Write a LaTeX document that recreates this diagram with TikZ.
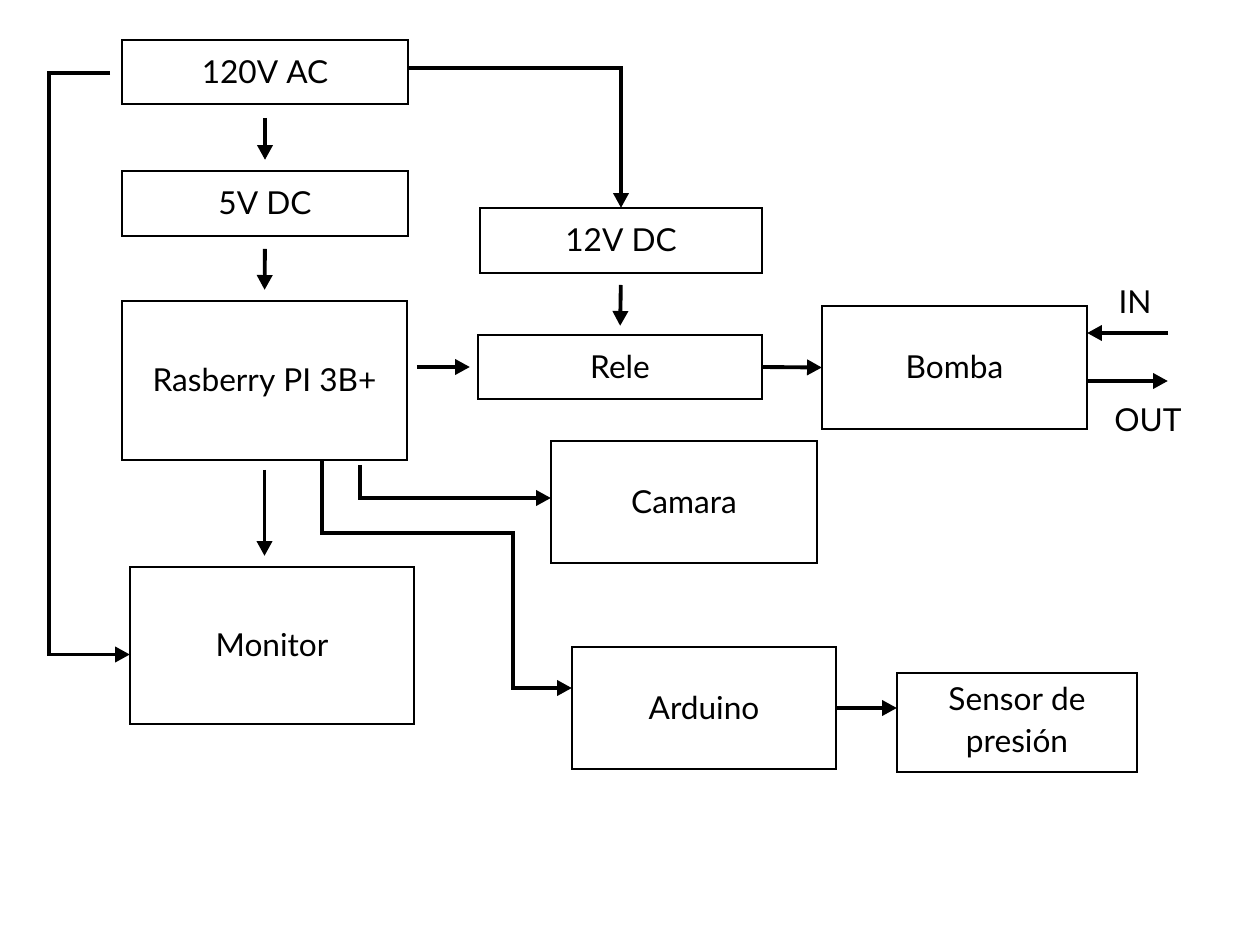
\documentclass[tikz,border=0pt]{standalone}
\usepackage{fontspec}
\setmainfont{Lato}
\usetikzlibrary{arrows.meta,positioning}

\begin{document}
\begin{tikzpicture}[x=0.02cm,y=-0.02cm,
  blk/.style={draw,line width=1.2pt,inner sep=0pt,outer sep=0pt,font=\fontsize{18}{24}\selectfont},
  onerow/.style={blk,text height=13pt,text depth=0pt},
  arr/.style={line width=2.2pt,-{Triangle[length=0.3cm,width=0.3cm]}}]
  \useasboundingbox[fill=white] (0,0) rectangle (1240,925);
  \node[onerow,minimum width=5.72cm,minimum height=1.28cm] (ac) at (265,72) {120V AC};
  \node[onerow,minimum width=5.72cm,minimum height=1.30cm] (dcfive) at (265,203.5) {5V DC};
  \node[onerow,minimum width=5.64cm,minimum height=1.30cm] (dctwelve) at (621,240.5) {12V DC};
  \node[onerow,minimum width=5.70cm,minimum height=3.18cm] (rpi) at (264.5,380.5) {Rasberry PI 3B+};
  \node[onerow,minimum width=5.68cm,minimum height=1.28cm] (rele) at (620,367) {Rele};
  \node[onerow,minimum width=5.30cm,minimum height=2.46cm] (bomba) at (954.5,367.5) {Bomba};
  \node[onerow,minimum width=5.32cm,minimum height=2.44cm] (camara) at (684,502) {Camara};
  \node[onerow,minimum width=5.68cm,minimum height=3.14cm] (monitor) at (272,645.5) {Monitor};
  \node[onerow,minimum width=5.28cm,minimum height=2.44cm] (arduino) at (704,708) {Arduino};
  \node[blk,align=center,minimum width=4.80cm,minimum height=1.98cm] (sensor) at (1017,722.5) {Sensor de\\presión};
  \node[font=\fontsize{18}{24}\selectfont] (inlbl) at (1135,302) {IN};
  \node[font=\fontsize{18}{24}\selectfont] (outlbl) at (1148,420) {OUT};
  \coordinate (inx) at (1168,333);
  \coordinate (outx) at (1168,381);
  \coordinate (leftbus) at (49,400);
  \coordinate (ardbend) at (513,533);

  \draw[arr,shorten <=0.28cm,shorten >=0.22cm] (ac.south) -- (dcfive.north);
  \draw[arr,shorten <=0.26cm,shorten >=0.22cm] (dcfive.south) -- (rpi.north);
  \draw[arr] ([yshift=0.08cm]ac.east) -| (dctwelve.north);
  \draw[arr,shorten <=0.24cm,shorten >=0.18cm] (dctwelve.south) -- (rele.north);
  \draw[arr,shorten <=0.2cm,shorten >=0.16cm] (rpi.east |- rele.west) -- (rele.west);
  \draw[arr] (rele.east) -- (bomba.west);
  \draw[arr] (inx) -- (inx -| bomba.east);
  \draw[arr] (bomba.east |- outx) -- (outx);
  \draw[arr,shorten <=0.1cm] ([xshift=1.91cm]rpi.south) |- ([yshift=0.08cm]camara.west);
  \draw[arr] ([xshift=1.15cm]rpi.south) |- (ardbend) |- ([yshift=0.4cm]arduino.west);
  \draw[arr,shorten <=0.2cm,shorten >=0.22cm] (rpi.south) -- (rpi.south |- monitor.north);
  \draw[arr,shorten <=0.24cm] ([yshift=-0.02cm]ac.west) -| (leftbus) |- ([yshift=-0.18cm]monitor.west);
  \draw[arr] (arduino.east) -- (arduino.east -| sensor.west);
\end{tikzpicture}
\end{document}
